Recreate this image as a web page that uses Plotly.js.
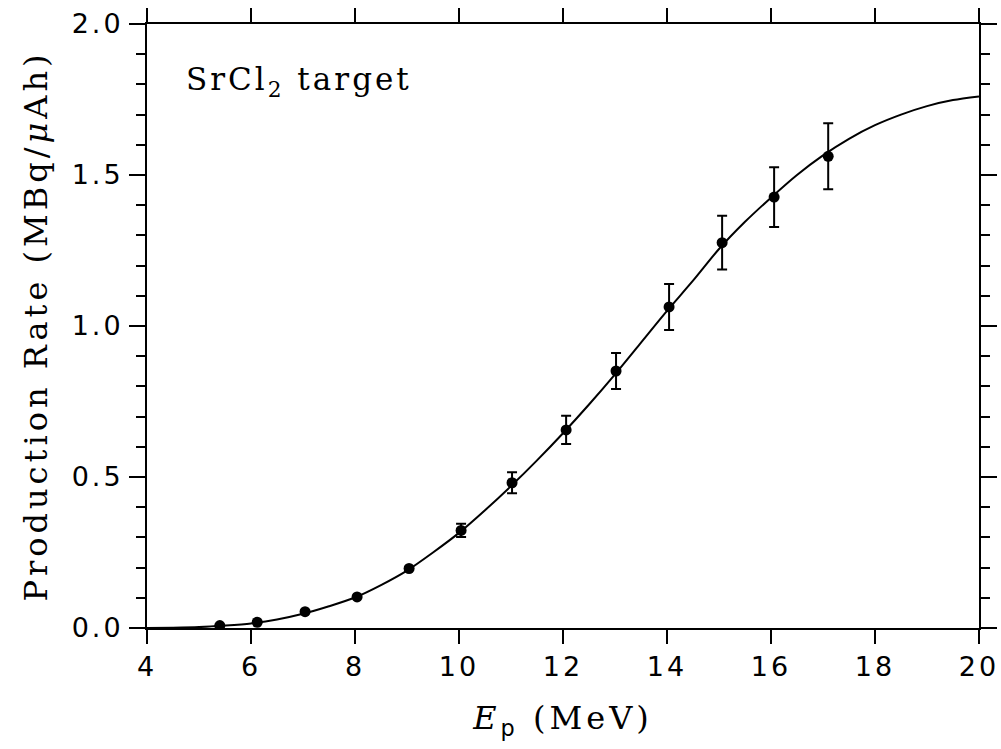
<!DOCTYPE html>
<html>
<head>
<meta charset="utf-8">
<script src="https://cdn.plot.ly/plotly-3.0.1.min.js"></script>
<style>
  html, body { margin: 0; padding: 0; background: #fff; }
  #chart { width: 1001px; height: 749px; }
  .xtick text, .ytick text { letter-spacing: 3px; }
  .xtitle, .ytitle { letter-spacing: 4px; }
  .annotation-text { letter-spacing: 3px; }
</style>
</head>
<body>
<div id="chart"></div>
<script>
// Measured data points
const energy = [5.40, 6.12, 7.04, 8.04, 9.04, 10.04, 11.02, 12.06, 13.02, 14.04, 15.06, 16.06, 17.10];
const rate = [0.008, 0.019, 0.054, 0.103, 0.197, 0.323, 0.481, 0.656, 0.851, 1.063, 1.276, 1.427, 1.562];
const rateErr = [0, 0, 0, 0, 0, 0.022, 0.035, 0.047, 0.060, 0.076, 0.089, 0.099, 0.109];

// Fitted curve
const curveE = [4.0, 4.5, 5.0, 5.5, 6.0, 6.5, 7.0, 7.5, 8.0, 8.5, 9.0, 9.5, 10.0, 10.5, 11.0, 11.5, 12.0, 12.5, 13.0, 13.5, 14.0, 14.5, 15.0, 15.5, 16.0, 16.5, 17.0, 17.5, 18.0, 18.5, 19.0, 19.5, 20.0];
const curveRate = [0.000, 0.001, 0.003, 0.008, 0.015, 0.028, 0.047, 0.072, 0.101, 0.142, 0.190, 0.250, 0.315, 0.390, 0.470, 0.555, 0.645, 0.740, 0.840, 0.945, 1.050, 1.150, 1.255, 1.345, 1.425, 1.500, 1.565, 1.620, 1.665, 1.700, 1.728, 1.748, 1.760];

const xTicks = [4, 6, 8, 10, 12, 14, 16, 18, 20];
const yTicks = [0.0, 0.5, 1.0, 1.5, 2.0];
const yTickText = ['0.0', '0.5', '1.0', '1.5', '2.0'];

const tickFont = { family: 'DejaVu Sans, sans-serif', size: 27, color: '#000' };
const titleFont = { family: 'DejaVu Serif, serif', size: 32, color: '#000' };

const traces = [
  {
    x: curveE, y: curveRate, type: 'scatter', mode: 'lines',
    line: { color: '#000', width: 2, shape: 'spline', smoothing: 0.8 },
    hoverinfo: 'skip', showlegend: false
  },
  {
    x: energy, y: rate, type: 'scatter', mode: 'markers',
    marker: { color: '#000', size: 11 },
    error_y: { type: 'data', array: rateErr, visible: true, color: '#000', thickness: 2, width: 5 },
    showlegend: false
  }
];

const layout = {
  width: 1001, height: 749,
  margin: { l: 147, r: 22, t: 24, b: 121 },
  paper_bgcolor: '#fff', plot_bgcolor: '#fff',
  showlegend: false,
  xaxis: {
    range: [4, 20], tickvals: xTicks, ticktext: xTicks.map(String),
    ticks: 'outside', ticklen: 14, tickwidth: 2, tickcolor: '#000',
    showline: true, linecolor: '#000', linewidth: 2, mirror: 'ticks',
    showgrid: false, zeroline: false,
    tickfont: tickFont,
    title: { text: '<i>E</i><sub style="font-family:DejaVu Sans,sans-serif">p</sub> (MeV)', font: titleFont, standoff: 25 }
  },
  yaxis: {
    range: [0, 2.0], tickvals: yTicks, ticktext: yTickText,
    ticks: 'outside', ticklen: 16, tickwidth: 2, tickcolor: '#000',
    minor: { dtick: 0.1, ticks: 'outside', ticklen: 9, tickwidth: 2, tickcolor: '#000', showgrid: false },
    showline: true, linecolor: '#000', linewidth: 2, mirror: 'ticks',
    showgrid: false, zeroline: false,
    tickfont: tickFont,
    title: { text: 'Production Rate (MBq/<i>μ</i>Ah)', font: titleFont, standoff: 14 }
  },
  annotations: [
    {
      xref: 'paper', yref: 'paper', x: 0.045, y: 0.905,
      xanchor: 'left', yanchor: 'middle', showarrow: false,
      text: 'SrCl<sub>2</sub> target',
      font: { family: 'DejaVu Serif, serif', size: 31, color: '#000' }
    }
  ]
};

Plotly.newPlot('chart', traces, layout, { displayModeBar: false, staticPlot: true });
</script>
</body>
</html>
